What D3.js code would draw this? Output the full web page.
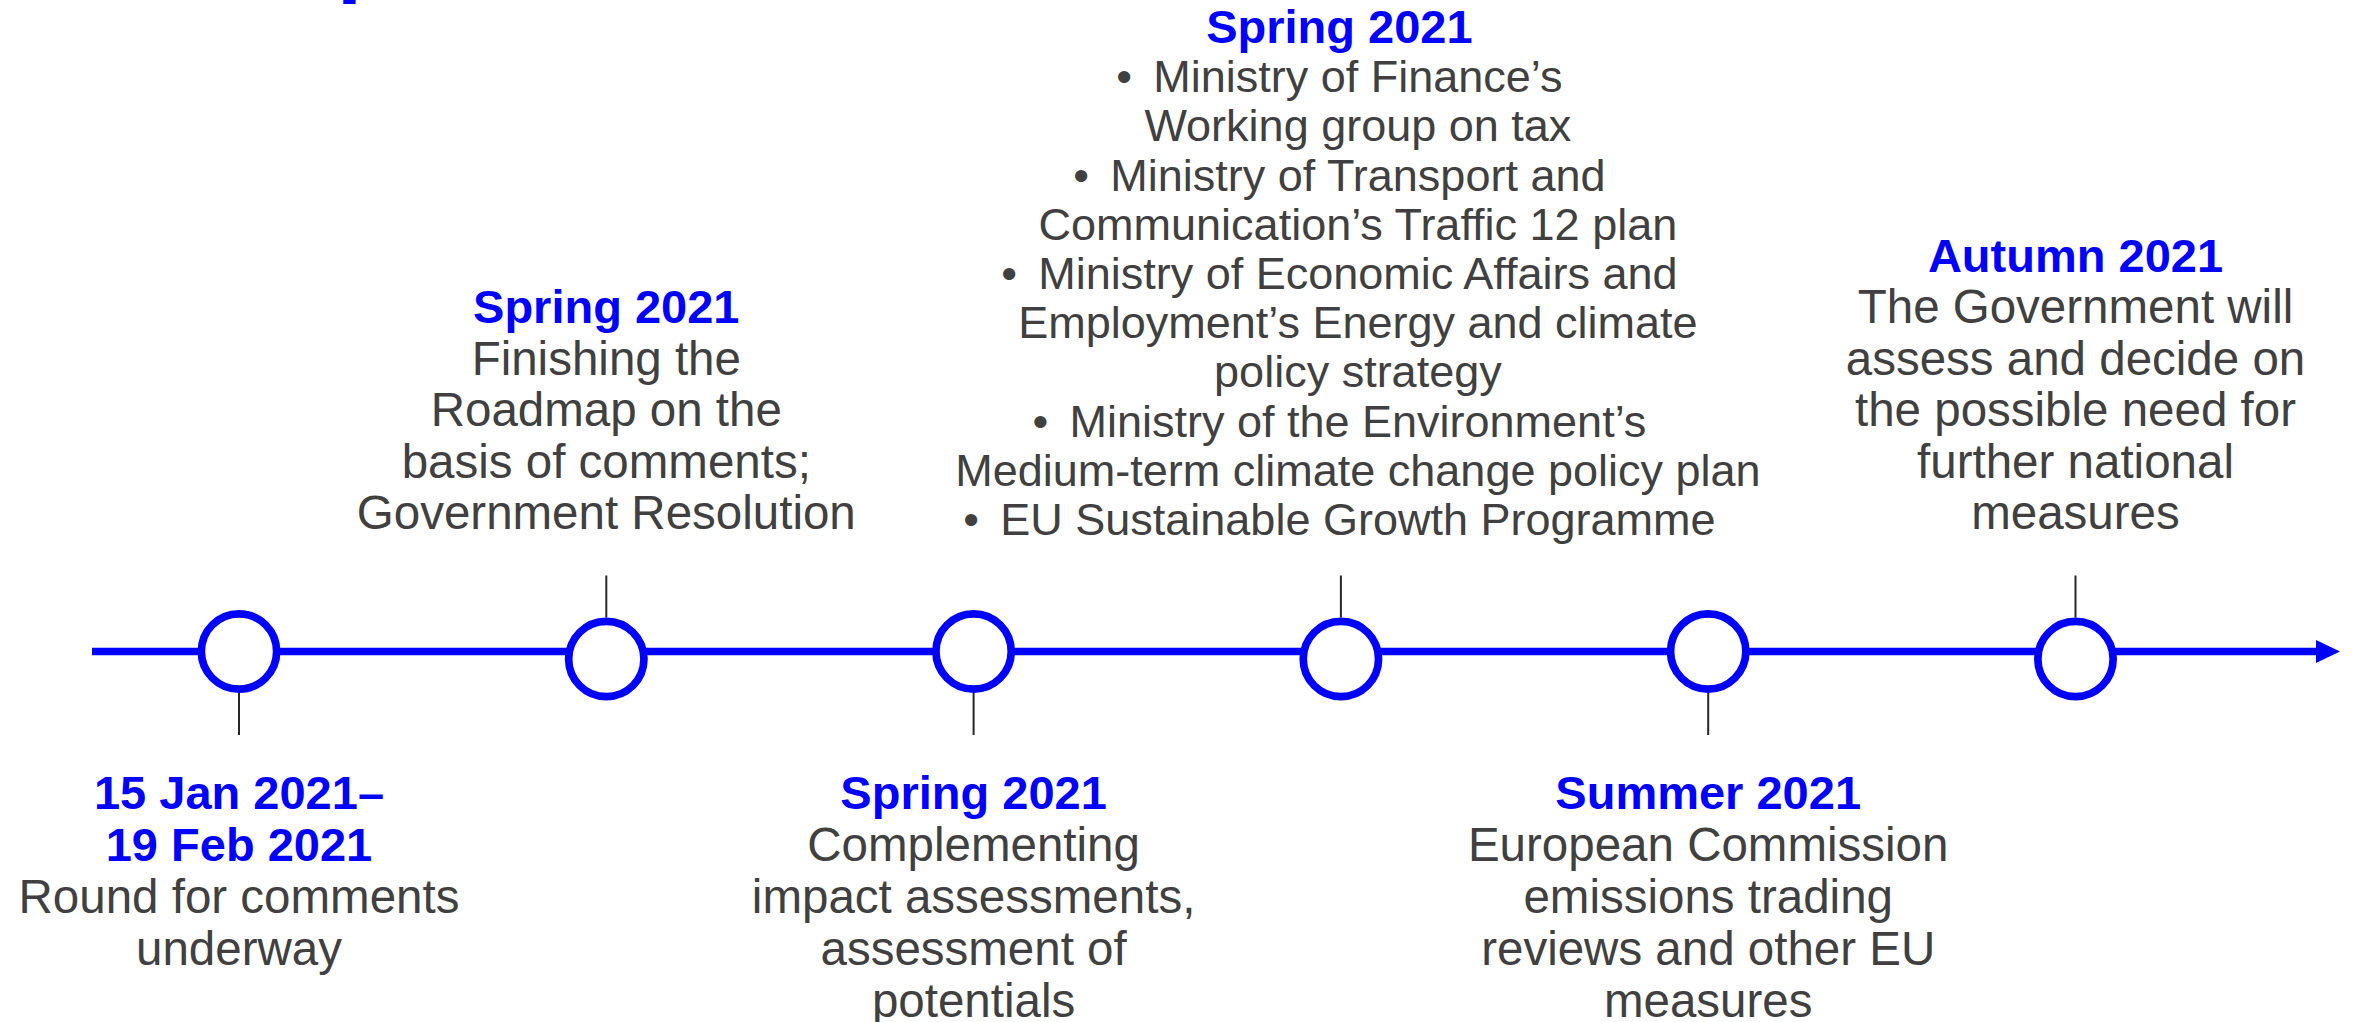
<!DOCTYPE html>
<html>
<head>
<meta charset="utf-8">
<script src="https://cdn.jsdelivr.net/npm/d3@7"></script>
<style>
  html, body { margin: 0; padding: 0; background: #ffffff; }
  svg { display: block; }
  text { font-family: "Liberation Sans", Arial, sans-serif; }
</style>
</head>
<body>
<svg id="chart" width="2354" height="1022"></svg>
<script>
// ---------------- data ----------------
const milestoneIndex = [0, 1, 2, 3, 4, 5];
const sides = ["below", "above", "below", "above", "below", "above"];
const titles = [
  ["15 Jan 2021–", "19 Feb 2021"],
  ["Spring 2021"],
  ["Spring 2021"],
  ["Spring 2021"],
  ["Summer 2021"],
  ["Autumn 2021"]
];
const descriptions = [
  ["Round for comments", "underway"],
  ["Finishing the", "Roadmap on the", "basis of comments;", "Government Resolution"],
  ["Complementing", "impact assessments,", "assessment of", "potentials"],
  ["• Ministry of Finance’s", "Working group on tax",
   "• Ministry of Transport and", "Communication’s Traffic 12 plan",
   "• Ministry of Economic Affairs and", "Employment’s Energy and climate", "policy strategy",
   "• Ministry of the Environment’s", "Medium-term climate change policy plan",
   "• EU Sustainable Growth Programme"],
  ["European Commission", "emissions trading", "reviews and other EU", "measures"],
  ["The Government will", "assess and decide on", "the possible need for", "further national", "measures"]
];

// ---------------- layout ----------------
const W = 2354, H = 1022;
const BLUE = "#0000ff", GREY = "#404040", TICK = "#262626";
const axisY = 651.5;
const svg = d3.select("#chart");

const x = d3.scalePoint().domain(milestoneIndex).range([239, 2075.5]);

// cut-off heading fragment at the very top
svg.append("text")
  .attr("x", 337).attr("y", -15)
  .attr("fill", BLUE).attr("font-weight", "bold").attr("font-size", 90)
  .text("p");

// main timeline line + arrow head
const lineStart = 92, arrowBase = 2316, arrowTip = 2340;
svg.append("line")
  .attr("x1", lineStart).attr("x2", arrowBase + 2)
  .attr("y1", axisY).attr("y2", axisY)
  .attr("stroke", BLUE).attr("stroke-width", 7.7);
svg.append("path")
  .attr("d", d3.line()([[arrowBase, axisY - 11.5], [arrowTip, axisY], [arrowBase, axisY + 11.5]]) + "Z")
  .attr("fill", BLUE);

// connector ticks
const outerR = 41.5;
const cyOf = i => sides[i] === "below" ? axisY : axisY + 7.5;
svg.selectAll("line.tick").data(milestoneIndex).join("line")
  .attr("class", "tick")
  .attr("x1", i => x(i)).attr("x2", i => x(i))
  .attr("y1", i => sides[i] === "below" ? cyOf(i) + outerR : cyOf(i) - outerR)
  .attr("y2", i => sides[i] === "below" ? cyOf(i) + outerR + 42 : cyOf(i) - outerR - 42)
  .attr("stroke", TICK).attr("stroke-width", 2);

// milestone circles
svg.selectAll("circle.ms").data(milestoneIndex).join("circle")
  .attr("class", "ms")
  .attr("cx", i => x(i)).attr("cy", i => cyOf(i))
  .attr("r", outerR - 3.85)
  .attr("fill", "#ffffff").attr("stroke", BLUE).attr("stroke-width", 7.7);

// text blocks
milestoneIndex.forEach(i => {
  const cx = x(i);
  const g = svg.append("g");
  const desc = descriptions[i];
  const hasBullets = desc.some(s => s.startsWith("• "));
  const tLines = titles[i];

  if (hasBullets) {
    // compact bulleted block, anchored from top
    const pitch = 49.2, fs = 45, top = 43, indent = 37;
    const center = cx - 1.5;
    tLines.forEach((t, k) => {
      g.append("text").attr("x", center).attr("y", top + k * pitch)
        .attr("text-anchor", "middle").attr("font-weight", "bold")
        .attr("font-size", 47).attr("fill", BLUE).text(t);
    });
    desc.forEach((s, k) => {
      const y = top + (tLines.length + k) * pitch;
      if (s.startsWith("• ")) {
        const body = s.slice(2);
        const bt = g.append("text").attr("y", y).attr("font-size", fs).attr("fill", GREY).text("•");
        const tt = g.append("text").attr("y", y).attr("font-size", fs).attr("fill", GREY).text(body);
        const tw = tt.node().getComputedTextLength();
        const x0 = center - (indent + tw) / 2;
        bt.attr("x", x0);
        tt.attr("x", x0 + indent);
      } else {
        g.append("text").attr("x", center + indent / 2).attr("y", y)
          .attr("text-anchor", "middle").attr("font-size", fs).attr("fill", GREY).text(s);
      }
    });
  } else {
    const fsT = 47, fsB = 47.5;
    const all = tLines.map(t => ({ t, title: true })).concat(desc.map(t => ({ t, title: false })));
    const n = all.length;
    all.forEach((d, k) => {
      const y = sides[i] === "below" ? 809 + k * 52 : 529 - (n - 1 - k) * 51.5;
      g.append("text").attr("x", cx).attr("y", y)
        .attr("text-anchor", "middle")
        .attr("font-weight", d.title ? "bold" : "normal")
        .attr("font-size", d.title ? fsT : fsB)
        .attr("fill", d.title ? BLUE : GREY)
        .text(d.t);
    });
  }
});
</script>
</body>
</html>
